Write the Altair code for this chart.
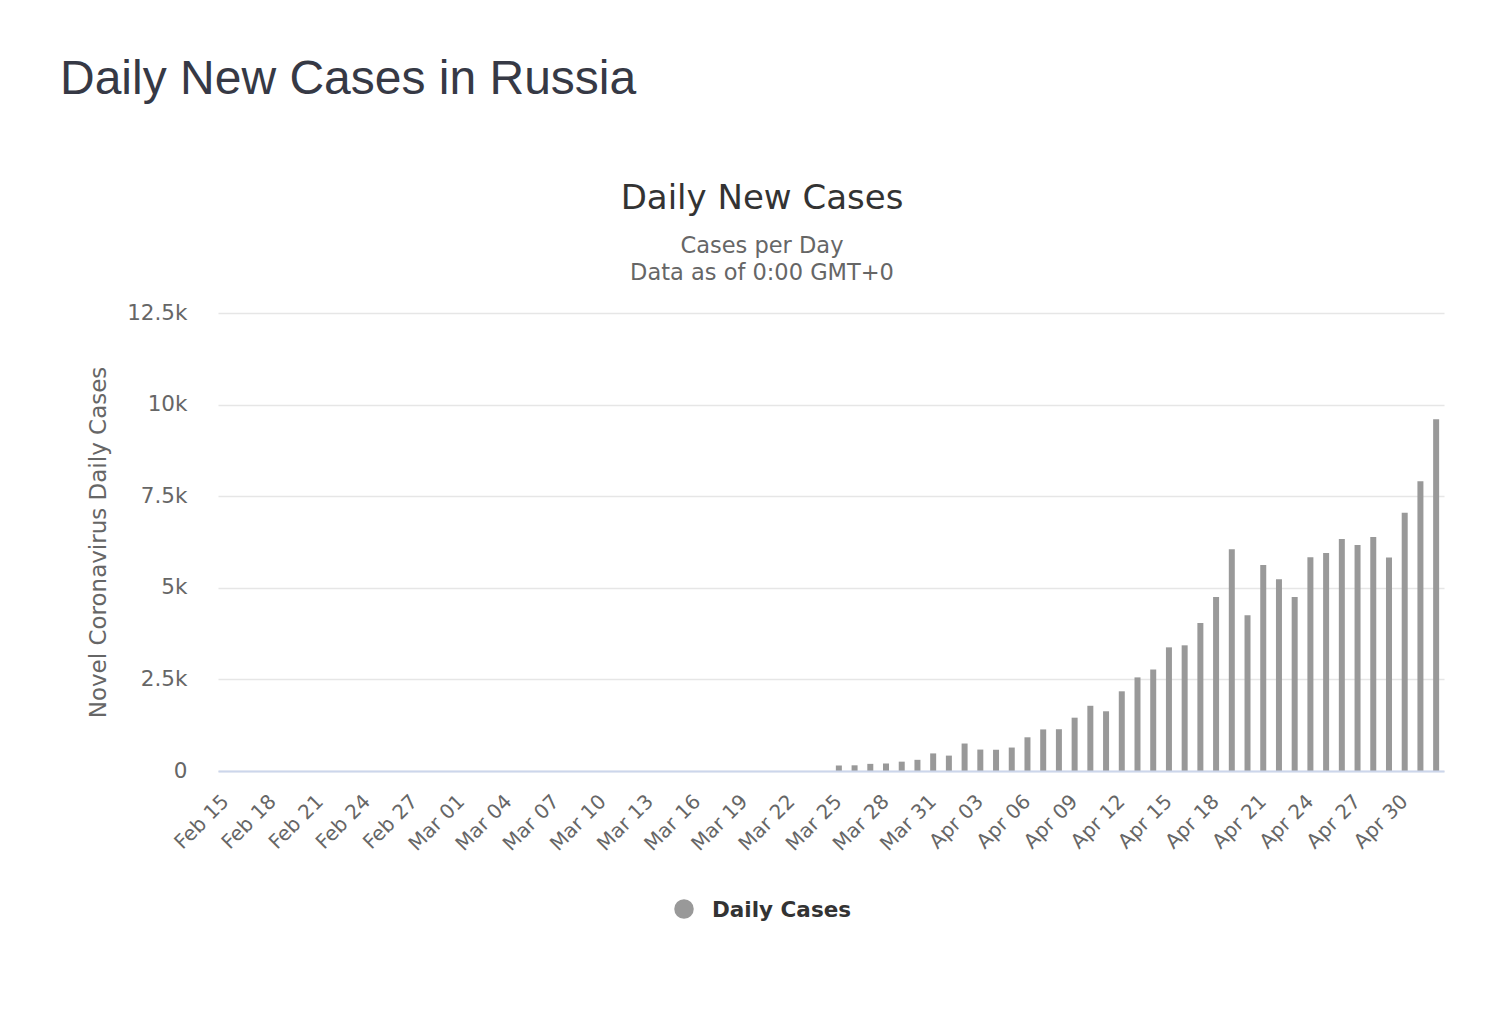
import altair as alt
import pandas as pd

# Categories: one per day, Feb 15 .. May 02 (2020)
dates = pd.date_range("2020-02-15", "2020-05-02").strftime("%b %d").tolist()
tick_labels = dates[0::3]  # Feb 15, Feb 18, ..., Apr 30

# Daily new cases (bars before Mar 25 are too small to see)
feb_cases = [0] * 15
mar_cases = [0, 0, 0, 0, 0, 0, 0, 0, 0, 0, 0, 0, 0, 0, 0, 0, 0, 0, 0, 0,
             0, 0, 0, 0, 150, 155, 195, 205, 255, 305, 480]
apr_cases = [420, 750, 585, 580, 640, 920, 1135, 1140, 1455, 1780,
             1630, 2175, 2555, 2770, 3375, 3430, 4040, 4750, 6050, 4250,
             5620, 5230, 4750, 5835, 5950, 6330, 6170, 6385, 5830, 7050]
may_cases = [7910, 9600]
cases = feb_cases + mar_cases + apr_cases + may_cases

page_title = "Daily New Cases in Russia"
chart_title = "Daily New Cases"
subtitle_1 = "Cases per Day"
subtitle_2 = "Data as of 0:00 GMT+0"
y_title = "Novel Coronavirus Daily Cases"
legend_label = "Daily Cases"
y_ticks = [0, 2500, 5000, 7500, 10000, 12500]

df = pd.DataFrame({"date": dates, "cases": cases})

FONT = "DejaVu Sans"
BAR = "#999999"

bars = alt.Chart(df).mark_bar(size=6, color=BAR).encode(
    x=alt.X(
        "date:O",
        sort=dates,
        scale=alt.Scale(paddingInner=0, paddingOuter=0),
        axis=alt.Axis(
            values=tick_labels,
            title=None,
            labelAngle=-45,
            labelAlign="right",
            labelBaseline="middle",
            labelPadding=27,
            labelFontSize=20,
            labelFont=FONT,
            labelColor="#666666",
            labelOverlap=False,
            ticks=False,
            domainColor="#ccd6eb",
            domainWidth=2,
            grid=False,
            zindex=1,
        ),
    ),
    y=alt.Y(
        "cases:Q",
        scale=alt.Scale(domain=[0, 12500], nice=False),
        axis=alt.Axis(
            values=y_ticks,
            labelExpr="datum.value == 0 ? '0' : (datum.value / 1000) + 'k'",
            title=y_title,
            titleFont=FONT,
            titleFontSize=23,
            titleFontWeight="normal",
            titleColor="#666666",
            titlePadding=16,
            labelFont=FONT,
            labelFontSize=21.5,
            labelColor="#666666",
            labelPadding=31,
            ticks=False,
            domain=False,
            gridColor="#e6e6e6",
            gridWidth=1.5,
        ),
    ),
)


def text_layer(txt, x, y, size, color, font=FONT, weight="normal", align="center"):
    return alt.Chart(pd.DataFrame({"t": [txt]})).mark_text(
        font=font, fontSize=size, fontWeight=weight, color=color,
        align=align, baseline="alphabetic",
    ).encode(x=alt.value(x), y=alt.value(y), text="t:N")


t_page = text_layer(page_title, -158, -219, 48, "#363945", font="Liberation Sans", align="left")
t_title = text_layer(chart_title, 544, -104, 34, "#333333")
t_sub1 = text_layer(subtitle_1, 544, -60, 22.5, "#666666")
t_sub2 = text_layer(subtitle_2, 544, -33, 22.5, "#666666")
legend_dot = alt.Chart(pd.DataFrame({"t": [legend_label]})).mark_point(
    shape="circle", filled=True, color=BAR, opacity=1, size=380
).encode(x=alt.value(466), y=alt.value(596))
t_legend = text_layer(legend_label, 494, 604, 21.5, "#333333", weight="bold", align="left")

chart = alt.layer(
    bars, t_page, t_title, t_sub1, t_sub2, legend_dot, t_legend
).properties(
    width=1226,
    height=458,
    autosize=alt.AutoSizeParams(type="none"),
    padding={"left": 210, "top": 305, "right": 30, "bottom": 220},
    background="white",
).configure_view(stroke=None)

chart.save("out.html", embed_options={"renderer": "svg", "actions": False})
